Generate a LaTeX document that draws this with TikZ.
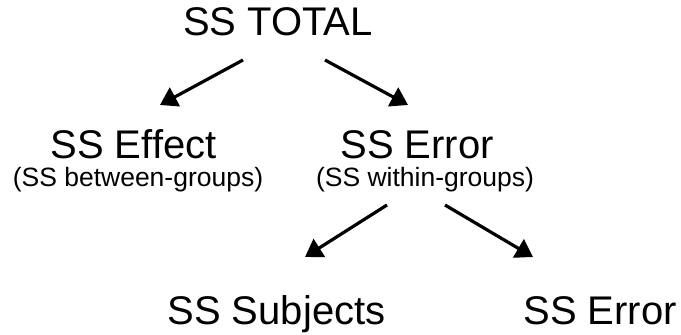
\documentclass[tikz,border=0pt]{standalone}
\usepackage{fontspec}
\setmainfont{Liberation Sans}
\usetikzlibrary{arrows.meta}
\begin{document}
\begin{tikzpicture}[x=1pt,y=1pt,
  big/.style={font=\fontsize{40}{48}\selectfont, inner sep=0pt, anchor=base},
  small/.style={font=\fontsize{26.5}{32}\selectfont, inner sep=0pt, anchor=base},
  arr/.style={line width=3.2pt, -{Triangle[length=17pt,width=21pt]}}]
\useasboundingbox (0,0) rectangle (681,335);
\node[big] (total) at (278,299) {SS TOTAL};
\node[big] (effect) at (133.5,176) {SS Effect};
\node[big] (error1) at (417,176) {SS Error};
\node[small] (between) at (138,148) {(SS between-groups)};
\node[small] (within) at (425,148) {(SS within-groups)};
\node[big] (subjects) at (276.5,10) {SS Subjects};
\node[big] (error2) at (600,10) {SS Error};
\coordinate (a1s) at (243,275);
\coordinate (a1e) at (160,230);
\coordinate (a2s) at (325,275);
\coordinate (a2e) at (408,230);
\coordinate (a3s) at (387,130);
\coordinate (a3e) at (305,78);
\coordinate (a4s) at (445,130);
\coordinate (a4e) at (533,78);
\draw[arr] (a1s) -- (a1e);
\draw[arr] (a2s) -- (a2e);
\draw[arr] (a3s) -- (a3e);
\draw[arr] (a4s) -- (a4e);
\end{tikzpicture}
\end{document}
